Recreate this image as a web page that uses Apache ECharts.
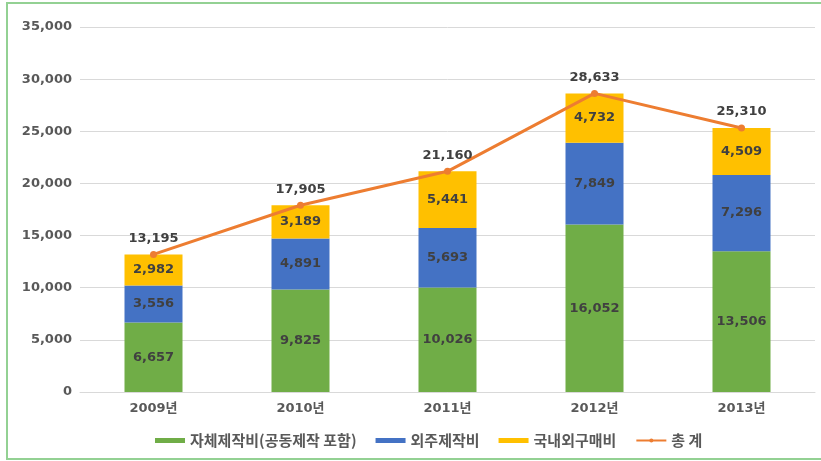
<!DOCTYPE html>
<html><head><meta charset="utf-8">
<script src="https://cdn.jsdelivr.net/npm/echarts@6/dist/echarts.min.js"></script>
<style>
html,body{margin:0;padding:0;background:#fff;}
#frame{position:absolute;left:6px;top:2px;width:830px;height:454px;border-left:2px solid #93d193;border-top:2px solid #93d193;border-bottom:2px solid #93d193;}
#chart{position:absolute;left:0;top:0;width:821px;height:461px;}
</style></head>
<body>
<div id="frame"></div>
<div id="chart"></div>
<script>
const categories = ['2009년','2010년','2011년','2012년','2013년'];
const selfProd = [6657, 9825, 10026, 16052, 13506];
const outsourced = [3556, 4891, 5693, 7849, 7296];
const purchased = [2982, 3189, 5441, 4732, 4509];
const totals = [13195, 17905, 21160, 28633, 25310];
const seriesNames = ['자체제작비(공동제작 포함)','외주제작비','국내외구매비','총 계'];
const yTicks = [0,5000,10000,15000,20000,25000,30000,35000];

const font = '"DejaVu Sans","Noto Sans CJK KR",sans-serif';
const fmt = v => Number(v).toLocaleString('en-US');
const chart = echarts.init(document.getElementById('chart'));
const barLabel = {show:true, position:'inside', color:'#404040', fontWeight:'bold', fontSize:13, fontFamily:font, formatter:p=>fmt(p.value)};
chart.setOption({
  animation:false,
  backgroundColor:'transparent',
  grid:{left:80, right:6, top:27, bottom:69, containLabel:false},
  legend:{
    left:150, top:428, itemWidth:30, itemHeight:5, itemGap:19,
    textStyle:{color:'#595959', fontSize:15, fontWeight:'bold', fontFamily:'"Noto Sans CJK KR","DejaVu Sans",sans-serif'},
    data:[
      {name:seriesNames[0], icon:'rect'},
      {name:seriesNames[1], icon:'rect'},
      {name:seriesNames[2], icon:'rect'},
      {name:seriesNames[3], itemStyle:{}}
    ]
  },
  xAxis:{
    type:'category', data:categories,
    axisLine:{lineStyle:{color:'#d9d9d9'}},
    axisTick:{show:false},
    axisLabel:{color:'#595959', fontSize:13, fontWeight:'bold', fontFamily:font, margin:10}
  },
  yAxis:{
    type:'value', min:yTicks[0], max:yTicks[yTicks.length-1], interval:5000,
    axisLine:{show:false}, axisTick:{show:false},
    splitLine:{lineStyle:{color:'#d9d9d9'}},
    axisLabel:{color:'#595959', fontSize:13, fontWeight:'bold', fontFamily:font, margin:8, formatter:v=>fmt(v)}
  },
  series:[
    {name:seriesNames[0], type:'bar', stack:'a', data:selfProd, barWidth:58, itemStyle:{color:'#70ad47'}, label:barLabel},
    {name:seriesNames[1], type:'bar', stack:'a', data:outsourced, itemStyle:{color:'#4472c4'}, label:barLabel},
    {name:seriesNames[2], type:'bar', stack:'a', data:purchased, itemStyle:{color:'#ffc000'}, label:barLabel},
    {name:seriesNames[3], type:'line', data:totals, symbol:'circle', symbolSize:7,
     lineStyle:{color:'#ed7d31', width:3}, itemStyle:{color:'#ed7d31'},
     label:{show:true, position:'top', distance:6, color:'#404040', fontWeight:'bold', fontSize:13, fontFamily:font, formatter:p=>fmt(p.value)}, z:5}
  ]
});
</script>
</body></html>
